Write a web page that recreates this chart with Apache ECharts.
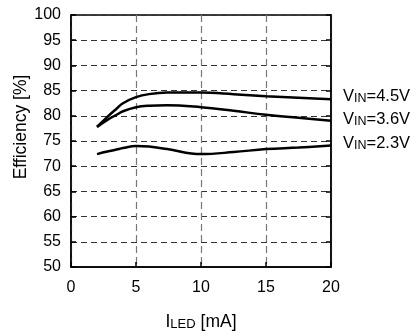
<!DOCTYPE html>
<html>
<head>
<meta charset="utf-8">
<script src="https://cdn.jsdelivr.net/npm/echarts@6/dist/echarts.min.js"></script>
<style>
  html, body { margin: 0; padding: 0; background: #fff; }
  #chart { width: 417px; height: 336px; }
</style>
</head>
<body>
<div id="chart"></div>
<script>
  var iLed = [2, 2.8, 3.5, 4, 5, 6, 7.4, 10, 12.5, 15, 17.5, 20];
  var eff45 = [77.8, 79.8, 81.4, 82.5, 83.7, 84.3, 84.6, 84.6, 84.3, 83.9, 83.6, 83.3];
  var eff36 = [77.8, 79.2, 80.2, 80.9, 81.7, 82.0, 82.1, 81.7, 81.0, 80.2, 79.6, 79.0];
  var eff23 = [72.4, 72.9, 73.3, 73.6, 74.0, 73.9, 73.4, 72.4, 72.8, 73.4, 73.7, 74.1];
  var vinLabels = ["=4.5V", "=3.6V", "=2.3V"];
  var yTicks = [50, 55, 60, 65, 70, 75, 80, 85, 90, 95, 100];

  var font = "'Liberation Sans', Arial, Helvetica, sans-serif";

  function pairs(ys) {
    return iLed.map(function (x, i) { return [x, ys[i]]; });
  }

  function makeSeries(ys, label, dy) {
    return {
      type: "line",
      data: pairs(ys),
      smooth: 0.4,
      showSymbol: false,
      clip: false,
      lineStyle: { color: "#000", width: 2.5 },
      endLabel: {
        show: true,
        distance: 12,
        offset: [0, dy],
        formatter: function () { return "{a|V}{b|IN}{a|" + label + "}"; },
        rich: {
          a: { fontSize: 16.5, fontFamily: font, color: "#000", verticalAlign: "bottom" },
          b: { fontSize: 12.5, fontFamily: font, color: "#000", verticalAlign: "bottom" }
        }
      }
    };
  }

  var myChart = echarts.init(document.getElementById("chart"));
  var option = {
    animation: false,
    textStyle: { fontFamily: font },
    grid: {
      left: 71, right: 86, top: 15, bottom: 69,
      outerBoundsMode: "none",
      containLabel: false,
      show: true, borderColor: "#000", borderWidth: 1.5
    },
    xAxis: {
      type: "value",
      min: 0,
      max: 20,
      interval: 5,
      name: "{a|I}{b|LED}{a| [mA]}",
      nameLocation: "middle",
      nameGap: 46,
      nameTextStyle: {
        rich: {
          a: { fontSize: 17.5, fontFamily: font, color: "#000", verticalAlign: "bottom" },
          b: { fontSize: 13, fontFamily: font, color: "#000", verticalAlign: "bottom" }
        }
      },
      axisLine: { show: true, lineStyle: { color: "#000", width: 1.5 } },
      axisTick: { show: true, inside: true, length: 5, lineStyle: { color: "#000", width: 1.5 } },
      axisLabel: { color: "#000", fontSize: 16, margin: 13 },
      splitLine: { show: true, lineStyle: { color: "#777", width: 1.2, type: [7, 4] } }
    },
    yAxis: [
      {
        type: "value",
        min: yTicks[0],
        max: yTicks[yTicks.length - 1],
        interval: 5,
        name: "Efficiency [%]",
        nameLocation: "middle",
        nameGap: 41,
        nameMoveOverlap: false,
        nameTextStyle: { color: "#000", fontSize: 17.5, fontFamily: font, padding: [0, 0, 0, 28] },
        axisLine: { show: true, lineStyle: { color: "#000", width: 1.5 } },
        axisTick: { show: true, inside: true, length: 5, lineStyle: { color: "#000", width: 1.5 } },
        axisLabel: { color: "#000", fontSize: 16, margin: 10 },
        splitLine: { show: true, lineStyle: { color: "#333", width: 1, type: [6, 4] } }
      },
      {
        type: "value",
        position: "right",
        min: yTicks[0],
        max: yTicks[yTicks.length - 1],
        interval: 5,
        axisLine: { show: true, lineStyle: { color: "#000", width: 1.5 } },
        axisTick: { show: true, inside: true, length: 5, lineStyle: { color: "#000", width: 1.5 } },
        axisLabel: { show: false },
        splitLine: { show: false }
      }
    ],
    series: [
      makeSeries(eff45, vinLabels[0], -3),
      makeSeries(eff36, vinLabels[1], -1),
      makeSeries(eff23, vinLabels[2], -2)
    ]
  };
  myChart.setOption(option);
</script>
</body>
</html>
